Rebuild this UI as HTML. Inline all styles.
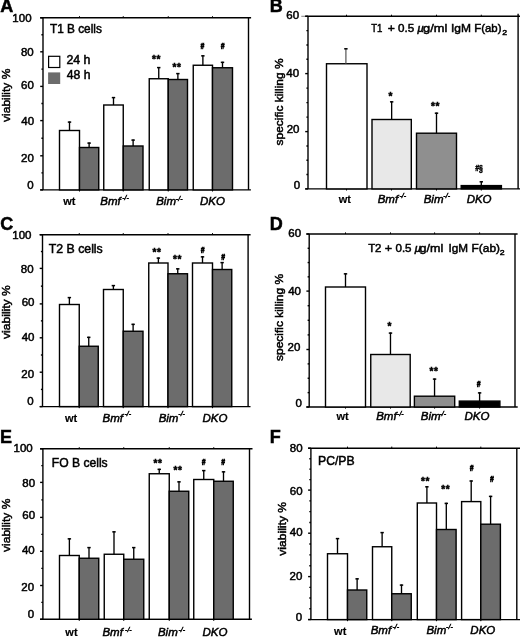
<!DOCTYPE html>
<html><head><meta charset="utf-8"><style>
html,body{margin:0;padding:0;background:#fff;overflow:hidden;}
svg{display:block;filter:blur(0px);}
text{font-family:"Liberation Sans", sans-serif;fill:#000;stroke:#000;stroke-width:0.5px;}
</style></head><body>
<svg width="520" height="637" viewBox="0 0 520 637">
<rect width="520" height="637" fill="#fff"/>
<g>
<line x1="43.00" y1="17.80" x2="43.00" y2="189.90" stroke="#000" stroke-width="1.4"/>
<line x1="248.50" y1="17.80" x2="248.50" y2="189.90" stroke="#000" stroke-width="1.4"/>
<line x1="40.20" y1="17.80" x2="251.10" y2="17.80" stroke="#000" stroke-width="1.4"/>
<line x1="40.20" y1="189.90" x2="250.90" y2="189.90" stroke="#000" stroke-width="1.4"/>
<line x1="40.20" y1="189.90" x2="43.00" y2="189.90" stroke="#000" stroke-width="1.4"/>
<line x1="41.40" y1="172.85" x2="43.00" y2="172.85" stroke="#000" stroke-width="1.4"/>
<line x1="40.20" y1="155.80" x2="43.00" y2="155.80" stroke="#000" stroke-width="1.4"/>
<line x1="41.40" y1="138.20" x2="43.00" y2="138.20" stroke="#000" stroke-width="1.4"/>
<line x1="40.20" y1="120.60" x2="43.00" y2="120.60" stroke="#000" stroke-width="1.4"/>
<line x1="41.40" y1="103.50" x2="43.00" y2="103.50" stroke="#000" stroke-width="1.4"/>
<line x1="40.20" y1="86.40" x2="43.00" y2="86.40" stroke="#000" stroke-width="1.4"/>
<line x1="41.40" y1="69.10" x2="43.00" y2="69.10" stroke="#000" stroke-width="1.4"/>
<line x1="40.20" y1="51.80" x2="43.00" y2="51.80" stroke="#000" stroke-width="1.4"/>
<line x1="41.40" y1="34.80" x2="43.00" y2="34.80" stroke="#000" stroke-width="1.4"/>
<line x1="40.20" y1="17.80" x2="43.00" y2="17.80" stroke="#000" stroke-width="1.4"/>
<line x1="79.50" y1="17.80" x2="79.50" y2="16.20" stroke="#000" stroke-width="1"/>
<line x1="79.50" y1="189.90" x2="79.50" y2="191.50" stroke="#000" stroke-width="1"/>
<line x1="123.25" y1="17.80" x2="123.25" y2="16.20" stroke="#000" stroke-width="1"/>
<line x1="123.25" y1="189.90" x2="123.25" y2="191.50" stroke="#000" stroke-width="1"/>
<line x1="168.25" y1="17.80" x2="168.25" y2="16.20" stroke="#000" stroke-width="1"/>
<line x1="168.25" y1="189.90" x2="168.25" y2="191.50" stroke="#000" stroke-width="1"/>
<line x1="212.50" y1="17.80" x2="212.50" y2="16.20" stroke="#000" stroke-width="1"/>
<line x1="212.50" y1="189.90" x2="212.50" y2="191.50" stroke="#000" stroke-width="1"/>
<rect x="59.50" y="130.50" width="20.00" height="59.40" fill="#ffffff" stroke="#000" stroke-width="1.4"/>
<line x1="69.50" y1="130.50" x2="69.50" y2="121.50" stroke="#000" stroke-width="1.35"/>
<line x1="67.80" y1="122.10" x2="71.20" y2="122.10" stroke="#000" stroke-width="1.5"/>
<rect x="79.50" y="147.50" width="19.25" height="42.40" fill="#6c6c6c" stroke="#000" stroke-width="1.4"/>
<line x1="89.12" y1="147.50" x2="89.12" y2="142.50" stroke="#000" stroke-width="1.35"/>
<line x1="87.42" y1="143.10" x2="90.83" y2="143.10" stroke="#000" stroke-width="1.5"/>
<rect x="103.75" y="105.00" width="19.50" height="84.90" fill="#ffffff" stroke="#000" stroke-width="1.4"/>
<line x1="113.50" y1="105.00" x2="113.50" y2="97.00" stroke="#000" stroke-width="1.35"/>
<line x1="111.80" y1="97.60" x2="115.20" y2="97.60" stroke="#000" stroke-width="1.5"/>
<rect x="123.25" y="146.00" width="19.75" height="43.90" fill="#6c6c6c" stroke="#000" stroke-width="1.4"/>
<line x1="133.12" y1="146.00" x2="133.12" y2="139.50" stroke="#000" stroke-width="1.35"/>
<line x1="131.43" y1="140.10" x2="134.82" y2="140.10" stroke="#000" stroke-width="1.5"/>
<rect x="149.25" y="78.75" width="19.00" height="111.15" fill="#ffffff" stroke="#000" stroke-width="1.4"/>
<line x1="158.75" y1="78.75" x2="158.75" y2="67.00" stroke="#000" stroke-width="1.35"/>
<line x1="157.05" y1="67.60" x2="160.45" y2="67.60" stroke="#000" stroke-width="1.5"/>
<text x="156.40" y="62.70" font-size="10" font-weight="bold" text-anchor="middle" letter-spacing="0.6">**</text>
<rect x="168.25" y="79.50" width="19.25" height="110.40" fill="#6c6c6c" stroke="#000" stroke-width="1.4"/>
<line x1="177.88" y1="79.50" x2="177.88" y2="73.00" stroke="#000" stroke-width="1.35"/>
<line x1="176.18" y1="73.60" x2="179.57" y2="73.60" stroke="#000" stroke-width="1.5"/>
<text x="177.00" y="70.70" font-size="10" font-weight="bold" text-anchor="middle" letter-spacing="0.6">**</text>
<rect x="193.25" y="65.25" width="19.25" height="124.65" fill="#ffffff" stroke="#000" stroke-width="1.4"/>
<line x1="202.88" y1="65.25" x2="202.88" y2="55.25" stroke="#000" stroke-width="1.35"/>
<line x1="201.18" y1="55.85" x2="204.57" y2="55.85" stroke="#000" stroke-width="1.5"/>
<text transform="translate(202.40,48.90) scale(0.7,1)" font-size="9.5" font-weight="bold" font-style="italic" text-anchor="middle" style="stroke-width:0.7px">#</text>
<rect x="212.50" y="67.75" width="20.00" height="122.15" fill="#6c6c6c" stroke="#000" stroke-width="1.4"/>
<line x1="222.50" y1="67.75" x2="222.50" y2="61.75" stroke="#000" stroke-width="1.35"/>
<line x1="220.80" y1="62.35" x2="224.20" y2="62.35" stroke="#000" stroke-width="1.5"/>
<text transform="translate(222.70,48.90) scale(0.7,1)" font-size="9.5" font-weight="bold" font-style="italic" text-anchor="middle" style="stroke-width:0.7px">#</text>
<text x="12.36" y="22.20" font-size="11.5" font-weight="normal" font-style="normal" >100</text>
<text x="20.96" y="55.90" font-size="11.5" font-weight="normal" font-style="normal" >80</text>
<text x="21.06" y="89.30" font-size="11.5" font-weight="normal" font-style="normal" >60</text>
<text x="21.36" y="124.60" font-size="11.5" font-weight="normal" font-style="normal" >40</text>
<text x="21.06" y="161.80" font-size="11.5" font-weight="normal" font-style="normal" >20</text>
<text x="27.15" y="188.90" font-size="11.5" font-weight="normal" font-style="normal" >0</text>
<text x="63.23" y="205.00" font-size="11" font-weight="bold" font-style="normal" style="stroke-width:0.15px">wt</text>
<text x="100.35" y="204.60" font-size="11.5" font-weight="normal" font-style="italic" >Bmf</text>
<text x="122.19" y="200.30" font-size="7" font-style="italic">-/-</text>
<text x="156.20" y="205.00" font-size="11.5" font-weight="normal" font-style="italic" >Bim</text>
<text x="175.87" y="200.70" font-size="7" font-style="italic">-/-</text>
<text x="199.95" y="205.20" font-size="11.5" font-weight="normal" font-style="italic" >DKO</text>
<text transform="translate(9.80,95.50) rotate(-90)" x="0.19" y="0" font-size="11.5" font-weight="normal" text-anchor="middle" textLength="53.27" lengthAdjust="spacingAndGlyphs">viability %</text>
<text x="0.35" y="12.30" font-size="18" font-weight="bold" font-style="normal" >A</text>
</g>
<g>
<line x1="308.00" y1="16.30" x2="308.00" y2="188.90" stroke="#000" stroke-width="1.4"/>
<line x1="518.10" y1="13.70" x2="518.10" y2="188.90" stroke="#000" stroke-width="1.4"/>
<line x1="305.20" y1="16.30" x2="520.50" y2="16.30" stroke="#000" stroke-width="1.4"/>
<line x1="305.20" y1="188.90" x2="520.50" y2="188.90" stroke="#000" stroke-width="1.4"/>
<line x1="301.30" y1="16.30" x2="305.20" y2="16.30" stroke="#888" stroke-width="1.1"/>
<line x1="305.20" y1="188.90" x2="308.00" y2="188.90" stroke="#000" stroke-width="1.4"/>
<line x1="306.40" y1="174.57" x2="308.00" y2="174.57" stroke="#000" stroke-width="1.4"/>
<line x1="306.40" y1="160.25" x2="308.00" y2="160.25" stroke="#000" stroke-width="1.4"/>
<line x1="306.40" y1="145.93" x2="308.00" y2="145.93" stroke="#000" stroke-width="1.4"/>
<line x1="305.20" y1="131.60" x2="308.00" y2="131.60" stroke="#000" stroke-width="1.4"/>
<line x1="306.40" y1="117.10" x2="308.00" y2="117.10" stroke="#000" stroke-width="1.4"/>
<line x1="306.40" y1="102.60" x2="308.00" y2="102.60" stroke="#000" stroke-width="1.4"/>
<line x1="306.40" y1="88.10" x2="308.00" y2="88.10" stroke="#000" stroke-width="1.4"/>
<line x1="305.20" y1="73.60" x2="308.00" y2="73.60" stroke="#000" stroke-width="1.4"/>
<line x1="306.40" y1="59.27" x2="308.00" y2="59.27" stroke="#000" stroke-width="1.4"/>
<line x1="306.40" y1="44.95" x2="308.00" y2="44.95" stroke="#000" stroke-width="1.4"/>
<line x1="306.40" y1="30.62" x2="308.00" y2="30.62" stroke="#000" stroke-width="1.4"/>
<line x1="305.20" y1="16.30" x2="308.00" y2="16.30" stroke="#000" stroke-width="1.4"/>
<line x1="346.50" y1="16.30" x2="346.50" y2="14.70" stroke="#000" stroke-width="1"/>
<line x1="346.50" y1="188.90" x2="346.50" y2="190.50" stroke="#000" stroke-width="1"/>
<line x1="391.50" y1="16.30" x2="391.50" y2="14.70" stroke="#000" stroke-width="1"/>
<line x1="391.50" y1="188.90" x2="391.50" y2="190.50" stroke="#000" stroke-width="1"/>
<line x1="436.50" y1="16.30" x2="436.50" y2="14.70" stroke="#000" stroke-width="1"/>
<line x1="436.50" y1="188.90" x2="436.50" y2="190.50" stroke="#000" stroke-width="1"/>
<line x1="481.30" y1="16.30" x2="481.30" y2="14.70" stroke="#000" stroke-width="1"/>
<line x1="481.30" y1="188.90" x2="481.30" y2="190.50" stroke="#000" stroke-width="1"/>
<rect x="326.50" y="63.75" width="40.50" height="125.15" fill="#ffffff" stroke="#000" stroke-width="1.4"/>
<line x1="345.90" y1="63.75" x2="345.90" y2="48.20" stroke="#555" stroke-width="1.2"/>
<line x1="344.20" y1="48.80" x2="347.60" y2="48.80" stroke="#000" stroke-width="1.5"/>
<rect x="372.00" y="119.50" width="39.30" height="69.40" fill="#e8e8e8" stroke="#000" stroke-width="1.4"/>
<line x1="391.65" y1="119.50" x2="391.65" y2="101.25" stroke="#000" stroke-width="1.35"/>
<line x1="389.95" y1="101.85" x2="393.35" y2="101.85" stroke="#000" stroke-width="1.5"/>
<text x="390.50" y="99.90" font-size="10" font-weight="bold" text-anchor="middle">*</text>
<rect x="416.50" y="133.20" width="40.00" height="55.70" fill="#8f8f8f" stroke="#000" stroke-width="1.4"/>
<line x1="436.50" y1="133.20" x2="436.50" y2="112.60" stroke="#000" stroke-width="1.35"/>
<line x1="434.80" y1="113.20" x2="438.20" y2="113.20" stroke="#000" stroke-width="1.5"/>
<text x="435.50" y="110.40" font-size="10" font-weight="bold" text-anchor="middle" letter-spacing="0.6">**</text>
<rect x="461.20" y="185.60" width="40.20" height="3.30" fill="#000" stroke="#000" stroke-width="1.4"/>
<line x1="481.30" y1="185.60" x2="481.30" y2="181.20" stroke="#000" stroke-width="1.35"/>
<line x1="479.60" y1="181.80" x2="483.00" y2="181.80" stroke="#000" stroke-width="1.5"/>
<text transform="translate(479.00,170.90) scale(0.8,1)" font-size="8.5" font-weight="bold" text-anchor="middle"><tspan font-style="italic">#</tspan>§</text>
<text x="286.36" y="18.80" font-size="11.5" font-weight="normal" font-style="normal" >60</text>
<text x="286.36" y="77.20" font-size="11.5" font-weight="normal" font-style="normal" >40</text>
<text x="286.66" y="133.30" font-size="11.5" font-weight="normal" font-style="normal" >20</text>
<text x="293.75" y="189.30" font-size="11.5" font-weight="normal" font-style="normal" >0</text>
<text x="338.63" y="202.60" font-size="11" font-weight="bold" font-style="normal" style="stroke-width:0.15px">wt</text>
<text x="377.65" y="202.60" font-size="11.5" font-weight="normal" font-style="italic" >Bmf</text>
<text x="399.49" y="198.10" font-size="7" font-style="italic">-/-</text>
<text x="423.70" y="202.60" font-size="11.5" font-weight="normal" font-style="italic" >Bim</text>
<text x="443.37" y="198.10" font-size="7" font-style="italic">-/-</text>
<text x="466.65" y="202.60" font-size="11.5" font-weight="normal" font-style="italic" >DKO</text>
<text transform="translate(283.00,102.00) rotate(-90)" x="0.05" y="0" font-size="11.5" font-weight="normal" text-anchor="middle" textLength="86.96" lengthAdjust="spacingAndGlyphs">specific killing %</text>
<text x="269.86" y="12.40" font-size="18" font-weight="bold" font-style="normal" >B</text>
</g>
<g>
<line x1="42.50" y1="234.70" x2="42.50" y2="406.60" stroke="#000" stroke-width="1.4"/>
<line x1="248.10" y1="234.70" x2="248.10" y2="406.60" stroke="#000" stroke-width="1.4"/>
<line x1="39.70" y1="234.70" x2="250.60" y2="234.70" stroke="#000" stroke-width="1.4"/>
<line x1="39.70" y1="406.60" x2="250.50" y2="406.60" stroke="#000" stroke-width="1.4"/>
<line x1="39.70" y1="406.60" x2="42.50" y2="406.60" stroke="#000" stroke-width="1.4"/>
<line x1="40.90" y1="389.40" x2="42.50" y2="389.40" stroke="#000" stroke-width="1.4"/>
<line x1="39.70" y1="372.20" x2="42.50" y2="372.20" stroke="#000" stroke-width="1.4"/>
<line x1="40.90" y1="355.00" x2="42.50" y2="355.00" stroke="#000" stroke-width="1.4"/>
<line x1="39.70" y1="337.80" x2="42.50" y2="337.80" stroke="#000" stroke-width="1.4"/>
<line x1="40.90" y1="320.85" x2="42.50" y2="320.85" stroke="#000" stroke-width="1.4"/>
<line x1="39.70" y1="303.90" x2="42.50" y2="303.90" stroke="#000" stroke-width="1.4"/>
<line x1="40.90" y1="286.15" x2="42.50" y2="286.15" stroke="#000" stroke-width="1.4"/>
<line x1="39.70" y1="268.40" x2="42.50" y2="268.40" stroke="#000" stroke-width="1.4"/>
<line x1="40.90" y1="251.55" x2="42.50" y2="251.55" stroke="#000" stroke-width="1.4"/>
<line x1="39.70" y1="234.70" x2="42.50" y2="234.70" stroke="#000" stroke-width="1.4"/>
<line x1="79.25" y1="234.70" x2="79.25" y2="233.10" stroke="#000" stroke-width="1"/>
<line x1="79.25" y1="406.60" x2="79.25" y2="408.20" stroke="#000" stroke-width="1"/>
<line x1="123.25" y1="234.70" x2="123.25" y2="233.10" stroke="#000" stroke-width="1"/>
<line x1="123.25" y1="406.60" x2="123.25" y2="408.20" stroke="#000" stroke-width="1"/>
<line x1="168.00" y1="234.70" x2="168.00" y2="233.10" stroke="#000" stroke-width="1"/>
<line x1="168.00" y1="406.60" x2="168.00" y2="408.20" stroke="#000" stroke-width="1"/>
<line x1="212.50" y1="234.70" x2="212.50" y2="233.10" stroke="#000" stroke-width="1"/>
<line x1="212.50" y1="406.60" x2="212.50" y2="408.20" stroke="#000" stroke-width="1"/>
<rect x="59.50" y="304.50" width="19.75" height="102.10" fill="#ffffff" stroke="#000" stroke-width="1.4"/>
<line x1="69.38" y1="304.50" x2="69.38" y2="297.00" stroke="#000" stroke-width="1.35"/>
<line x1="67.67" y1="297.60" x2="71.08" y2="297.60" stroke="#000" stroke-width="1.5"/>
<rect x="79.25" y="346.25" width="19.00" height="60.35" fill="#6c6c6c" stroke="#000" stroke-width="1.4"/>
<line x1="88.75" y1="346.25" x2="88.75" y2="336.75" stroke="#000" stroke-width="1.35"/>
<line x1="87.05" y1="337.35" x2="90.45" y2="337.35" stroke="#000" stroke-width="1.5"/>
<rect x="103.50" y="289.50" width="19.75" height="117.10" fill="#ffffff" stroke="#000" stroke-width="1.4"/>
<line x1="113.38" y1="289.50" x2="113.38" y2="285.00" stroke="#000" stroke-width="1.35"/>
<line x1="111.67" y1="285.60" x2="115.08" y2="285.60" stroke="#000" stroke-width="1.5"/>
<rect x="123.25" y="331.25" width="19.75" height="75.35" fill="#6c6c6c" stroke="#000" stroke-width="1.4"/>
<line x1="133.12" y1="331.25" x2="133.12" y2="323.75" stroke="#000" stroke-width="1.35"/>
<line x1="131.43" y1="324.35" x2="134.82" y2="324.35" stroke="#000" stroke-width="1.5"/>
<rect x="148.75" y="263.00" width="19.25" height="143.60" fill="#ffffff" stroke="#000" stroke-width="1.4"/>
<line x1="158.38" y1="263.00" x2="158.38" y2="257.50" stroke="#000" stroke-width="1.35"/>
<line x1="156.68" y1="258.10" x2="160.07" y2="258.10" stroke="#000" stroke-width="1.5"/>
<text x="157.00" y="256.10" font-size="10" font-weight="bold" text-anchor="middle" letter-spacing="0.6">**</text>
<rect x="168.00" y="273.75" width="19.50" height="132.85" fill="#6c6c6c" stroke="#000" stroke-width="1.4"/>
<line x1="177.75" y1="273.75" x2="177.75" y2="268.25" stroke="#000" stroke-width="1.35"/>
<line x1="176.05" y1="268.85" x2="179.45" y2="268.85" stroke="#000" stroke-width="1.5"/>
<text x="177.50" y="263.10" font-size="10" font-weight="bold" text-anchor="middle" letter-spacing="0.6">**</text>
<rect x="192.50" y="263.00" width="20.00" height="143.60" fill="#ffffff" stroke="#000" stroke-width="1.4"/>
<line x1="202.50" y1="263.00" x2="202.50" y2="256.25" stroke="#000" stroke-width="1.35"/>
<line x1="200.80" y1="256.85" x2="204.20" y2="256.85" stroke="#000" stroke-width="1.5"/>
<text transform="translate(202.50,252.90) scale(0.7,1)" font-size="9.5" font-weight="bold" font-style="italic" text-anchor="middle" style="stroke-width:0.7px">#</text>
<rect x="212.50" y="269.50" width="19.25" height="137.10" fill="#6c6c6c" stroke="#000" stroke-width="1.4"/>
<line x1="222.12" y1="269.50" x2="222.12" y2="262.00" stroke="#000" stroke-width="1.35"/>
<line x1="220.43" y1="262.60" x2="223.82" y2="262.60" stroke="#000" stroke-width="1.5"/>
<text transform="translate(223.00,259.90) scale(0.7,1)" font-size="9.5" font-weight="bold" font-style="italic" text-anchor="middle" style="stroke-width:0.7px">#</text>
<text x="12.31" y="239.20" font-size="11.5" font-weight="normal" font-style="normal" >100</text>
<text x="20.86" y="272.70" font-size="11.5" font-weight="normal" font-style="normal" >80</text>
<text x="21.66" y="305.70" font-size="11.5" font-weight="normal" font-style="normal" >60</text>
<text x="21.66" y="340.80" font-size="11.5" font-weight="normal" font-style="normal" >40</text>
<text x="21.36" y="377.60" font-size="11.5" font-weight="normal" font-style="normal" >20</text>
<text x="27.25" y="405.10" font-size="11.5" font-weight="normal" font-style="normal" >0</text>
<text x="64.93" y="422.00" font-size="11" font-weight="bold" font-style="normal" style="stroke-width:0.15px">wt</text>
<text x="102.55" y="422.00" font-size="11.5" font-weight="normal" font-style="italic" >Bmf</text>
<text x="124.39" y="416.20" font-size="7" font-style="italic">-/-</text>
<text x="158.65" y="421.80" font-size="11.5" font-weight="normal" font-style="italic" >Bim</text>
<text x="178.32" y="416.00" font-size="7" font-style="italic">-/-</text>
<text x="202.45" y="421.80" font-size="11.5" font-weight="normal" font-style="italic" >DKO</text>
<text transform="translate(9.50,312.30) rotate(-90)" x="0.19" y="0" font-size="11.5" font-weight="normal" text-anchor="middle" textLength="53.77" lengthAdjust="spacingAndGlyphs">viability %</text>
<text x="0.13" y="229.80" font-size="18" font-weight="bold" font-style="normal" >C</text>
</g>
<g>
<line x1="309.20" y1="234.00" x2="309.20" y2="407.00" stroke="#000" stroke-width="1.4"/>
<line x1="515.00" y1="234.00" x2="515.00" y2="407.00" stroke="#000" stroke-width="1.4"/>
<line x1="306.40" y1="234.00" x2="517.60" y2="234.00" stroke="#000" stroke-width="1.4"/>
<line x1="306.40" y1="407.00" x2="517.70" y2="407.00" stroke="#000" stroke-width="1.4"/>
<line x1="306.40" y1="407.00" x2="309.20" y2="407.00" stroke="#000" stroke-width="1.4"/>
<line x1="307.60" y1="392.62" x2="309.20" y2="392.62" stroke="#000" stroke-width="1.4"/>
<line x1="307.60" y1="378.25" x2="309.20" y2="378.25" stroke="#000" stroke-width="1.4"/>
<line x1="307.60" y1="363.88" x2="309.20" y2="363.88" stroke="#000" stroke-width="1.4"/>
<line x1="306.40" y1="349.50" x2="309.20" y2="349.50" stroke="#000" stroke-width="1.4"/>
<line x1="307.60" y1="334.90" x2="309.20" y2="334.90" stroke="#000" stroke-width="1.4"/>
<line x1="307.60" y1="320.30" x2="309.20" y2="320.30" stroke="#000" stroke-width="1.4"/>
<line x1="307.60" y1="305.70" x2="309.20" y2="305.70" stroke="#000" stroke-width="1.4"/>
<line x1="306.40" y1="291.10" x2="309.20" y2="291.10" stroke="#000" stroke-width="1.4"/>
<line x1="307.60" y1="276.83" x2="309.20" y2="276.83" stroke="#000" stroke-width="1.4"/>
<line x1="307.60" y1="262.55" x2="309.20" y2="262.55" stroke="#000" stroke-width="1.4"/>
<line x1="307.60" y1="248.28" x2="309.20" y2="248.28" stroke="#000" stroke-width="1.4"/>
<line x1="306.40" y1="234.00" x2="309.20" y2="234.00" stroke="#000" stroke-width="1.4"/>
<line x1="345.50" y1="234.00" x2="345.50" y2="232.40" stroke="#000" stroke-width="1"/>
<line x1="345.50" y1="407.00" x2="345.50" y2="408.60" stroke="#000" stroke-width="1"/>
<line x1="390.50" y1="234.00" x2="390.50" y2="232.40" stroke="#000" stroke-width="1"/>
<line x1="390.50" y1="407.00" x2="390.50" y2="408.60" stroke="#000" stroke-width="1"/>
<line x1="434.60" y1="234.00" x2="434.60" y2="232.40" stroke="#000" stroke-width="1"/>
<line x1="434.60" y1="407.00" x2="434.60" y2="408.60" stroke="#000" stroke-width="1"/>
<line x1="479.60" y1="234.00" x2="479.60" y2="232.40" stroke="#000" stroke-width="1"/>
<line x1="479.60" y1="407.00" x2="479.60" y2="408.60" stroke="#000" stroke-width="1"/>
<rect x="325.50" y="287.00" width="40.00" height="120.00" fill="#ffffff" stroke="#000" stroke-width="1.4"/>
<line x1="345.50" y1="287.00" x2="345.50" y2="273.25" stroke="#000" stroke-width="1.35"/>
<line x1="343.80" y1="273.85" x2="347.20" y2="273.85" stroke="#000" stroke-width="1.5"/>
<rect x="370.75" y="354.50" width="39.45" height="52.50" fill="#e8e8e8" stroke="#000" stroke-width="1.4"/>
<line x1="390.48" y1="354.50" x2="390.48" y2="332.50" stroke="#000" stroke-width="1.35"/>
<line x1="388.78" y1="333.10" x2="392.18" y2="333.10" stroke="#000" stroke-width="1.5"/>
<text x="389.50" y="329.65" font-size="10" font-weight="bold" text-anchor="middle">*</text>
<rect x="414.40" y="396.20" width="40.30" height="10.80" fill="#8f8f8f" stroke="#000" stroke-width="1.4"/>
<line x1="434.55" y1="396.20" x2="434.55" y2="378.50" stroke="#000" stroke-width="1.35"/>
<line x1="432.85" y1="379.10" x2="436.25" y2="379.10" stroke="#000" stroke-width="1.5"/>
<text x="434.00" y="375.10" font-size="10" font-weight="bold" text-anchor="middle" letter-spacing="0.6">**</text>
<rect x="459.30" y="401.10" width="40.60" height="5.90" fill="#000" stroke="#000" stroke-width="1.4"/>
<line x1="479.60" y1="401.10" x2="479.60" y2="392.30" stroke="#000" stroke-width="1.35"/>
<line x1="477.90" y1="392.90" x2="481.30" y2="392.90" stroke="#000" stroke-width="1.5"/>
<text transform="translate(478.70,387.40) scale(0.7,1)" font-size="9.5" font-weight="bold" font-style="italic" text-anchor="middle" style="stroke-width:0.7px">#</text>
<text x="288.26" y="236.60" font-size="11.5" font-weight="normal" font-style="normal" >60</text>
<text x="288.16" y="294.50" font-size="11.5" font-weight="normal" font-style="normal" >40</text>
<text x="287.56" y="351.40" font-size="11.5" font-weight="normal" font-style="normal" >20</text>
<text x="295.45" y="407.20" font-size="11.5" font-weight="normal" font-style="normal" >0</text>
<text x="336.53" y="420.20" font-size="11" font-weight="bold" font-style="normal" style="stroke-width:0.15px">wt</text>
<text x="376.15" y="419.90" font-size="11.5" font-weight="normal" font-style="italic" >Bmf</text>
<text x="397.09" y="415.90" font-size="7" font-style="italic">-/-</text>
<text x="420.75" y="420.20" font-size="11.5" font-weight="normal" font-style="italic" >Bim</text>
<text x="439.52" y="416.20" font-size="7" font-style="italic">-/-</text>
<text x="464.55" y="420.20" font-size="11.5" font-weight="normal" font-style="italic" >DKO</text>
<text transform="translate(283.00,317.50) rotate(-90)" x="0.05" y="0" font-size="11.5" font-weight="normal" text-anchor="middle" textLength="87.16" lengthAdjust="spacingAndGlyphs">specific killing %</text>
<text x="269.86" y="229.90" font-size="18" font-weight="bold" font-style="normal" >D</text>
</g>
<g>
<line x1="42.90" y1="448.80" x2="42.90" y2="619.30" stroke="#000" stroke-width="1.4"/>
<line x1="249.50" y1="448.80" x2="249.50" y2="619.30" stroke="#000" stroke-width="1.4"/>
<line x1="40.10" y1="448.80" x2="252.50" y2="448.80" stroke="#000" stroke-width="1.4"/>
<line x1="40.10" y1="619.30" x2="251.90" y2="619.30" stroke="#000" stroke-width="1.4"/>
<line x1="40.10" y1="619.30" x2="42.90" y2="619.30" stroke="#000" stroke-width="1.4"/>
<line x1="41.30" y1="602.40" x2="42.90" y2="602.40" stroke="#000" stroke-width="1.4"/>
<line x1="40.10" y1="585.50" x2="42.90" y2="585.50" stroke="#000" stroke-width="1.4"/>
<line x1="41.30" y1="568.40" x2="42.90" y2="568.40" stroke="#000" stroke-width="1.4"/>
<line x1="40.10" y1="551.30" x2="42.90" y2="551.30" stroke="#000" stroke-width="1.4"/>
<line x1="41.30" y1="534.35" x2="42.90" y2="534.35" stroke="#000" stroke-width="1.4"/>
<line x1="40.10" y1="517.40" x2="42.90" y2="517.40" stroke="#000" stroke-width="1.4"/>
<line x1="41.30" y1="499.90" x2="42.90" y2="499.90" stroke="#000" stroke-width="1.4"/>
<line x1="40.10" y1="482.40" x2="42.90" y2="482.40" stroke="#000" stroke-width="1.4"/>
<line x1="41.30" y1="465.60" x2="42.90" y2="465.60" stroke="#000" stroke-width="1.4"/>
<line x1="40.10" y1="448.80" x2="42.90" y2="448.80" stroke="#000" stroke-width="1.4"/>
<line x1="79.25" y1="448.80" x2="79.25" y2="447.20" stroke="#000" stroke-width="1"/>
<line x1="79.25" y1="619.30" x2="79.25" y2="620.90" stroke="#000" stroke-width="1"/>
<line x1="123.75" y1="448.80" x2="123.75" y2="447.20" stroke="#000" stroke-width="1"/>
<line x1="123.75" y1="619.30" x2="123.75" y2="620.90" stroke="#000" stroke-width="1"/>
<line x1="169.25" y1="448.80" x2="169.25" y2="447.20" stroke="#000" stroke-width="1"/>
<line x1="169.25" y1="619.30" x2="169.25" y2="620.90" stroke="#000" stroke-width="1"/>
<line x1="213.75" y1="448.80" x2="213.75" y2="447.20" stroke="#000" stroke-width="1"/>
<line x1="213.75" y1="619.30" x2="213.75" y2="620.90" stroke="#000" stroke-width="1"/>
<rect x="59.50" y="555.50" width="19.75" height="63.80" fill="#ffffff" stroke="#000" stroke-width="1.4"/>
<line x1="69.38" y1="555.50" x2="69.38" y2="538.25" stroke="#000" stroke-width="1.35"/>
<line x1="67.67" y1="538.85" x2="71.08" y2="538.85" stroke="#000" stroke-width="1.5"/>
<rect x="79.25" y="558.25" width="19.50" height="61.05" fill="#6c6c6c" stroke="#000" stroke-width="1.4"/>
<line x1="89.00" y1="558.25" x2="89.00" y2="547.00" stroke="#000" stroke-width="1.35"/>
<line x1="87.30" y1="547.60" x2="90.70" y2="547.60" stroke="#000" stroke-width="1.5"/>
<rect x="104.25" y="554.25" width="19.50" height="65.05" fill="#ffffff" stroke="#000" stroke-width="1.4"/>
<line x1="114.00" y1="554.25" x2="114.00" y2="531.25" stroke="#000" stroke-width="1.35"/>
<line x1="112.30" y1="531.85" x2="115.70" y2="531.85" stroke="#000" stroke-width="1.5"/>
<rect x="123.75" y="559.25" width="20.00" height="60.05" fill="#6c6c6c" stroke="#000" stroke-width="1.4"/>
<line x1="133.75" y1="559.25" x2="133.75" y2="547.00" stroke="#000" stroke-width="1.35"/>
<line x1="132.05" y1="547.60" x2="135.45" y2="547.60" stroke="#000" stroke-width="1.5"/>
<rect x="149.25" y="473.75" width="20.00" height="145.55" fill="#ffffff" stroke="#000" stroke-width="1.4"/>
<line x1="159.25" y1="473.75" x2="159.25" y2="468.75" stroke="#000" stroke-width="1.35"/>
<line x1="157.55" y1="469.35" x2="160.95" y2="469.35" stroke="#000" stroke-width="1.5"/>
<text x="158.00" y="467.40" font-size="10" font-weight="bold" text-anchor="middle" letter-spacing="0.6">**</text>
<rect x="169.25" y="491.25" width="19.50" height="128.05" fill="#6c6c6c" stroke="#000" stroke-width="1.4"/>
<line x1="179.00" y1="491.25" x2="179.00" y2="481.25" stroke="#000" stroke-width="1.35"/>
<line x1="177.30" y1="481.85" x2="180.70" y2="481.85" stroke="#000" stroke-width="1.5"/>
<text x="178.00" y="474.15" font-size="10" font-weight="bold" text-anchor="middle" letter-spacing="0.6">**</text>
<rect x="193.75" y="479.50" width="20.00" height="139.80" fill="#ffffff" stroke="#000" stroke-width="1.4"/>
<line x1="203.75" y1="479.50" x2="203.75" y2="470.00" stroke="#000" stroke-width="1.35"/>
<line x1="202.05" y1="470.60" x2="205.45" y2="470.60" stroke="#000" stroke-width="1.5"/>
<text transform="translate(203.50,465.40) scale(0.7,1)" font-size="9.5" font-weight="bold" font-style="italic" text-anchor="middle" style="stroke-width:0.7px">#</text>
<rect x="213.75" y="481.25" width="19.50" height="138.05" fill="#6c6c6c" stroke="#000" stroke-width="1.4"/>
<line x1="223.50" y1="481.25" x2="223.50" y2="471.25" stroke="#000" stroke-width="1.35"/>
<line x1="221.80" y1="471.85" x2="225.20" y2="471.85" stroke="#000" stroke-width="1.5"/>
<text transform="translate(223.20,465.40) scale(0.7,1)" font-size="9.5" font-weight="bold" font-style="italic" text-anchor="middle" style="stroke-width:0.7px">#</text>
<text x="13.56" y="452.30" font-size="11.5" font-weight="normal" font-style="normal" >100</text>
<text x="22.36" y="486.90" font-size="11.5" font-weight="normal" font-style="normal" >80</text>
<text x="22.36" y="518.70" font-size="11.5" font-weight="normal" font-style="normal" >60</text>
<text x="21.96" y="554.20" font-size="11.5" font-weight="normal" font-style="normal" >40</text>
<text x="21.26" y="590.80" font-size="11.5" font-weight="normal" font-style="normal" >20</text>
<text x="27.65" y="618.40" font-size="11.5" font-weight="normal" font-style="normal" >0</text>
<text x="65.33" y="636.20" font-size="11" font-weight="bold" font-style="normal" style="stroke-width:0.15px">wt</text>
<text x="102.45" y="636.40" font-size="11.5" font-weight="normal" font-style="italic" >Bmf</text>
<text x="125.09" y="632.00" font-size="7" font-style="italic">-/-</text>
<text x="157.95" y="636.20" font-size="11.5" font-weight="normal" font-style="italic" >Bim</text>
<text x="178.42" y="631.80" font-size="7" font-style="italic">-/-</text>
<text x="202.45" y="636.20" font-size="11.5" font-weight="normal" font-style="italic" >DKO</text>
<text transform="translate(10.00,525.50) rotate(-90)" x="0.19" y="0" font-size="11.5" font-weight="normal" text-anchor="middle" textLength="53.27" lengthAdjust="spacingAndGlyphs">viability %</text>
<text x="-0.05" y="443.30" font-size="18" font-weight="bold" font-style="normal" >E</text>
</g>
<g>
<line x1="310.90" y1="448.20" x2="310.90" y2="619.60" stroke="#000" stroke-width="1.4"/>
<line x1="516.80" y1="448.20" x2="516.80" y2="619.60" stroke="#000" stroke-width="1.4"/>
<line x1="308.10" y1="448.20" x2="520.50" y2="448.20" stroke="#000" stroke-width="1.4"/>
<line x1="308.10" y1="619.60" x2="520.50" y2="619.60" stroke="#000" stroke-width="1.4"/>
<line x1="308.10" y1="619.50" x2="310.90" y2="619.50" stroke="#000" stroke-width="1.4"/>
<line x1="309.30" y1="608.77" x2="310.90" y2="608.77" stroke="#000" stroke-width="1.4"/>
<line x1="309.30" y1="598.05" x2="310.90" y2="598.05" stroke="#000" stroke-width="1.4"/>
<line x1="309.30" y1="587.33" x2="310.90" y2="587.33" stroke="#000" stroke-width="1.4"/>
<line x1="308.10" y1="576.60" x2="310.90" y2="576.60" stroke="#000" stroke-width="1.4"/>
<line x1="309.30" y1="565.75" x2="310.90" y2="565.75" stroke="#000" stroke-width="1.4"/>
<line x1="309.30" y1="554.90" x2="310.90" y2="554.90" stroke="#000" stroke-width="1.4"/>
<line x1="309.30" y1="544.05" x2="310.90" y2="544.05" stroke="#000" stroke-width="1.4"/>
<line x1="308.10" y1="533.20" x2="310.90" y2="533.20" stroke="#000" stroke-width="1.4"/>
<line x1="309.30" y1="522.43" x2="310.90" y2="522.43" stroke="#000" stroke-width="1.4"/>
<line x1="309.30" y1="511.65" x2="310.90" y2="511.65" stroke="#000" stroke-width="1.4"/>
<line x1="309.30" y1="500.88" x2="310.90" y2="500.88" stroke="#000" stroke-width="1.4"/>
<line x1="308.10" y1="490.10" x2="310.90" y2="490.10" stroke="#000" stroke-width="1.4"/>
<line x1="309.30" y1="479.62" x2="310.90" y2="479.62" stroke="#000" stroke-width="1.4"/>
<line x1="309.30" y1="469.15" x2="310.90" y2="469.15" stroke="#000" stroke-width="1.4"/>
<line x1="309.30" y1="458.68" x2="310.90" y2="458.68" stroke="#000" stroke-width="1.4"/>
<line x1="308.10" y1="448.20" x2="310.90" y2="448.20" stroke="#000" stroke-width="1.4"/>
<line x1="347.50" y1="448.20" x2="347.50" y2="446.60" stroke="#000" stroke-width="1"/>
<line x1="347.50" y1="619.60" x2="347.50" y2="621.20" stroke="#000" stroke-width="1"/>
<line x1="391.75" y1="448.20" x2="391.75" y2="446.60" stroke="#000" stroke-width="1"/>
<line x1="391.75" y1="619.60" x2="391.75" y2="621.20" stroke="#000" stroke-width="1"/>
<line x1="436.50" y1="448.20" x2="436.50" y2="446.60" stroke="#000" stroke-width="1"/>
<line x1="436.50" y1="619.60" x2="436.50" y2="621.20" stroke="#000" stroke-width="1"/>
<line x1="480.80" y1="448.20" x2="480.80" y2="446.60" stroke="#000" stroke-width="1"/>
<line x1="480.80" y1="619.60" x2="480.80" y2="621.20" stroke="#000" stroke-width="1"/>
<rect x="327.50" y="553.75" width="20.00" height="65.85" fill="#ffffff" stroke="#000" stroke-width="1.4"/>
<line x1="337.50" y1="553.75" x2="337.50" y2="538.00" stroke="#000" stroke-width="1.35"/>
<line x1="335.80" y1="538.60" x2="339.20" y2="538.60" stroke="#000" stroke-width="1.5"/>
<rect x="347.50" y="590.00" width="19.25" height="29.60" fill="#6c6c6c" stroke="#000" stroke-width="1.4"/>
<line x1="357.12" y1="590.00" x2="357.12" y2="578.25" stroke="#000" stroke-width="1.35"/>
<line x1="355.43" y1="578.85" x2="358.82" y2="578.85" stroke="#000" stroke-width="1.5"/>
<rect x="372.50" y="546.75" width="19.25" height="72.85" fill="#ffffff" stroke="#000" stroke-width="1.4"/>
<line x1="382.12" y1="546.75" x2="382.12" y2="532.00" stroke="#000" stroke-width="1.35"/>
<line x1="380.43" y1="532.60" x2="383.82" y2="532.60" stroke="#000" stroke-width="1.5"/>
<rect x="391.75" y="593.75" width="19.50" height="25.85" fill="#6c6c6c" stroke="#000" stroke-width="1.4"/>
<line x1="401.50" y1="593.75" x2="401.50" y2="584.50" stroke="#000" stroke-width="1.35"/>
<line x1="399.80" y1="585.10" x2="403.20" y2="585.10" stroke="#000" stroke-width="1.5"/>
<rect x="417.30" y="503.00" width="19.20" height="116.60" fill="#ffffff" stroke="#000" stroke-width="1.4"/>
<line x1="426.90" y1="503.00" x2="426.90" y2="486.20" stroke="#000" stroke-width="1.35"/>
<line x1="425.20" y1="486.80" x2="428.60" y2="486.80" stroke="#000" stroke-width="1.5"/>
<text x="425.40" y="485.10" font-size="10" font-weight="bold" text-anchor="middle" letter-spacing="0.6">**</text>
<rect x="436.50" y="529.50" width="19.60" height="90.10" fill="#6c6c6c" stroke="#000" stroke-width="1.4"/>
<line x1="446.30" y1="529.50" x2="446.30" y2="502.80" stroke="#000" stroke-width="1.35"/>
<line x1="444.60" y1="503.40" x2="448.00" y2="503.40" stroke="#000" stroke-width="1.5"/>
<text x="445.70" y="492.70" font-size="10" font-weight="bold" text-anchor="middle" letter-spacing="0.6">**</text>
<rect x="461.60" y="501.60" width="19.20" height="118.00" fill="#ffffff" stroke="#000" stroke-width="1.4"/>
<line x1="471.20" y1="501.60" x2="471.20" y2="480.40" stroke="#000" stroke-width="1.35"/>
<line x1="469.50" y1="481.00" x2="472.90" y2="481.00" stroke="#000" stroke-width="1.5"/>
<text transform="translate(471.50,470.80) scale(0.7,1)" font-size="9.5" font-weight="bold" font-style="italic" text-anchor="middle" style="stroke-width:0.7px">#</text>
<rect x="480.80" y="524.20" width="19.60" height="95.40" fill="#6c6c6c" stroke="#000" stroke-width="1.4"/>
<line x1="490.60" y1="524.20" x2="490.60" y2="495.80" stroke="#000" stroke-width="1.35"/>
<line x1="488.90" y1="496.40" x2="492.30" y2="496.40" stroke="#000" stroke-width="1.5"/>
<text transform="translate(491.80,482.20) scale(0.7,1)" font-size="9.5" font-weight="bold" font-style="italic" text-anchor="middle" style="stroke-width:0.7px">#</text>
<text x="289.76" y="452.00" font-size="11.5" font-weight="normal" font-style="normal" >80</text>
<text x="289.76" y="495.00" font-size="11.5" font-weight="normal" font-style="normal" >60</text>
<text x="289.76" y="536.40" font-size="11.5" font-weight="normal" font-style="normal" >40</text>
<text x="289.56" y="579.60" font-size="11.5" font-weight="normal" font-style="normal" >20</text>
<text x="295.75" y="620.60" font-size="11.5" font-weight="normal" font-style="normal" >0</text>
<text x="334.08" y="634.60" font-size="11" font-weight="bold" font-style="normal" style="stroke-width:0.15px">wt</text>
<text x="370.70" y="634.30" font-size="11.5" font-weight="normal" font-style="italic" >Bmf</text>
<text x="392.54" y="629.30" font-size="7" font-style="italic">-/-</text>
<text x="426.45" y="634.00" font-size="11.5" font-weight="normal" font-style="italic" >Bim</text>
<text x="446.12" y="629.00" font-size="7" font-style="italic">-/-</text>
<text x="470.35" y="634.00" font-size="11.5" font-weight="normal" font-style="italic" >DKO</text>
<text transform="translate(286.30,529.00) rotate(-90)" x="0.20" y="0" font-size="11.5" font-weight="normal" text-anchor="middle" textLength="53.87" lengthAdjust="spacingAndGlyphs">viability %</text>
<text x="269.86" y="443.00" font-size="18" font-weight="bold" font-style="normal" >F</text>
</g>
<text x="50.10" y="32.70" font-size="12" font-weight="normal" font-style="normal" textLength="51.69" lengthAdjust="spacingAndGlyphs" >T1 B cells</text>
<rect x="48.6" y="56.3" width="11.2" height="11.2" fill="#fff" stroke="#000" stroke-width="1.2"/>
<rect x="48.1" y="72.4" width="12.1" height="11.6" fill="#6c6c6c"/>
<text x="66.43" y="63.50" font-size="12" font-weight="normal" font-style="normal" textLength="24.08" lengthAdjust="spacingAndGlyphs" >24 h</text>
<text x="66.77" y="79.40" font-size="12" font-weight="normal" font-style="normal" textLength="23.72" lengthAdjust="spacingAndGlyphs" >48 h</text>
<text x="48.82" y="252.90" font-size="12" font-weight="normal" font-style="normal" textLength="53.92" lengthAdjust="spacingAndGlyphs" >T2 B cells</text>
<text x="51.81" y="466.60" font-size="12" font-weight="normal" font-style="normal" textLength="55.83" lengthAdjust="spacingAndGlyphs" >FO B cells</text>
<text x="318.05" y="464.80" font-size="12" font-weight="normal" font-style="normal" textLength="36.54" lengthAdjust="spacingAndGlyphs" >PC/PB</text>
<text x="371.18" y="32.00" font-size="11.5" font-weight="normal" font-style="normal" textLength="11.18" lengthAdjust="spacingAndGlyphs" >T1</text>
<text x="387.71" y="32.00" font-size="11.5" font-weight="normal" font-style="normal" textLength="7.09" lengthAdjust="spacingAndGlyphs" >+</text>
<text x="398.05" y="32.00" font-size="11.5" font-weight="normal" font-style="normal" textLength="16.14" lengthAdjust="spacingAndGlyphs" >0.5</text>
<text x="417.31" y="32.00" font-size="11.5" font-weight="normal" font-style="italic" >µ</text>
<text x="423.06" y="32.00" font-size="11.5" font-weight="normal" font-style="normal" textLength="24.19" lengthAdjust="spacingAndGlyphs" >g/ml</text>
<text x="450.99" y="32.00" font-size="11.5" font-weight="normal" font-style="normal" textLength="19.99" lengthAdjust="spacingAndGlyphs" >IgM</text>
<text x="474.26" y="32.00" font-size="11.5" font-weight="normal" font-style="normal" textLength="27.24" lengthAdjust="spacingAndGlyphs" >F(ab)</text>
<text x="502.36" y="34.50" font-size="8" font-weight="normal" font-style="normal" textLength="4.88" lengthAdjust="spacingAndGlyphs" >2</text>
<text x="368.14" y="252.20" font-size="11.5" font-weight="normal" font-style="normal" textLength="13.33" lengthAdjust="spacingAndGlyphs" >T2</text>
<text x="384.89" y="252.20" font-size="11.5" font-weight="normal" font-style="normal" textLength="7.33" lengthAdjust="spacingAndGlyphs" >+</text>
<text x="395.45" y="252.20" font-size="11.5" font-weight="normal" font-style="normal" textLength="16.14" lengthAdjust="spacingAndGlyphs" >0.5</text>
<text x="414.61" y="252.20" font-size="11.5" font-weight="normal" font-style="italic" >µ</text>
<text x="419.57" y="252.20" font-size="11.5" font-weight="normal" font-style="normal" textLength="23.66" lengthAdjust="spacingAndGlyphs" >g/ml</text>
<text x="448.42" y="252.20" font-size="11.5" font-weight="normal" font-style="normal" textLength="19.54" lengthAdjust="spacingAndGlyphs" >IgM</text>
<text x="471.62" y="252.20" font-size="11.5" font-weight="normal" font-style="normal" textLength="28.41" lengthAdjust="spacingAndGlyphs" >F(ab)</text>
<text x="499.86" y="255.30" font-size="8" font-weight="normal" font-style="normal" textLength="4.88" lengthAdjust="spacingAndGlyphs" >2</text>
</svg>
</body></html>
